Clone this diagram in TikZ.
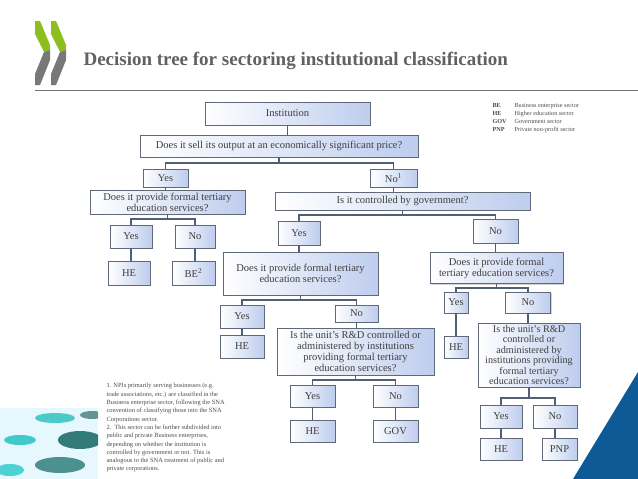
\documentclass[tikz,border=0pt]{standalone}
\usepackage{fontspec}
\setmainfont{Liberation Serif}
\usetikzlibrary{shadows}
\definecolor{bxr}{RGB}{190,205,238}
\definecolor{bxd}{RGB}{95,105,120}
\definecolor{lnc}{RGB}{80,95,115}
\definecolor{oecdg}{RGB}{140,190,30}
\definecolor{oecdgr}{RGB}{120,120,120}
\definecolor{tri}{RGB}{14,90,150}
\begin{document}
\begin{tikzpicture}[x=1pt,y=-1pt,
 bx/.style={draw=bxd,line width=0.8pt,left color=white,right color=bxr,
   drop shadow={shadow xshift=1.2pt,shadow yshift=-1.2pt,opacity=0.35},
   inner sep=1pt,align=center,font=\fontsize{10.5}{11}\selectfont,text=black!75},
 ln/.style={draw=lnc,line width=1.3pt}]
\useasboundingbox (0,0) rectangle (638,479);
\fill[white] (0,0) rectangle (638,479);
% logo
\foreach \o in {0,16}{
 \fill[oecdg] (35+\o,21)--(40+\o,21)--(50+\o,45)--(50+\o,50)--(44+\o,52)--(35+\o,34)--cycle;
 \fill[oecdgr] (44+\o,52)--(50+\o,50)--(50+\o,60)--(40+\o,85)--(35+\o,85)--(35+\o,74)--cycle;}
\node[anchor=base west,font=\fontsize{19}{21}\selectfont\bfseries,text=black!62] (title) at (80,65) {Decision tree for sectoring institutional classification};
\draw[black!55,line width=0.6pt] (35,90) -- (638,90);
% triangle
\fill[tri] (573,479) -- (638,372) -- (638,479) -- cycle;
% photo
\begin{scope}
\clip (0,408) rectangle (98,479);
\fill[white!90!cyan] (0,408) rectangle (98,479);
\fill[teal!60!cyan!70] (55,418) ellipse (20 and 5);
\fill[teal!70!black!80] (80,440) ellipse (22 and 9);
\fill[teal!55!cyan!75] (20,440) ellipse (16 and 5);
\fill[teal!75!black!70] (60,465) ellipse (25 and 8);
\fill[teal!50!cyan!70] (10,470) ellipse (14 and 6);
\fill[teal!60!black!60] (92,415) ellipse (12 and 4);
\end{scope}
% legend
\node[anchor=north west,align=left,font=\fontsize{6.2}{8}\selectfont,text=black!70] (leg) at (489,100)
 {\makebox[22pt][l]{\textbf{BE}}Business enterprise sector\\
  \makebox[22pt][l]{\textbf{HE}}Higher education sector\\
  \makebox[22pt][l]{\textbf{GOV}}Government sector\\
  \makebox[22pt][l]{\textbf{PNP}}Private non-profit sector};
% footnotes
\node[anchor=north west,align=left,font=\fontsize{6.4}{8.3}\selectfont,text=black!70] (fn) at (103,380)
 {1. NPIs primarily serving businesses (e.g.\\
 trade associations, etc.) are classified in the\\
 Business enterprise sector, following the SNA\\
 convention of classifying those into the SNA\\
 Corporations sector.\\
 2.\ \ This sector can be further subdivided into\\
 public and private Business enterprises,\\
 depending on whether the institution is\\
 controlled by government or not. This is\\
 analogous to the SNA treatment of public and\\
 private corporations.};
% boxes
\node[bx,minimum width=165,minimum height=23] (inst) at (287.5,113.5) {Institution};
\node[bx,minimum width=278,minimum height=22] (q1) at (279,146) {Does it sell its output at an economically significant price?};
\node[bx,minimum width=45,minimum height=18] (y1) at (165.5,178) {Yes};
\node[bx,minimum width=47,minimum height=18] (n1) at (393.5,178) {No\textsuperscript{1}};
\node[bx,minimum width=155,minimum height=24] (q2) at (167.5,202) {Does it provide formal tertiary\\education services?};
\node[bx,minimum width=255,minimum height=18] (q3) at (402.5,201) {Is it controlled by government?};
\node[bx,minimum width=42,minimum height=23] (ya) at (131,236.5) {Yes};
\node[bx,minimum width=40,minimum height=23] (na) at (195,236.5) {No};
\node[bx,minimum width=42,minimum height=24] (hea) at (129,273) {HE};
\node[bx,minimum width=43,minimum height=24] (be) at (193.5,273) {BE\textsuperscript{2}};
\node[bx,minimum width=42,minimum height=24] (yb) at (299,233) {Yes};
\node[bx,minimum width=45,minimum height=24] (nb) at (495.5,231) {No};
\node[bx,minimum width=155,minimum height=43] (q4) at (300.5,273.5) {Does it provide formal tertiary\\education services?};
\node[bx,minimum width=133,minimum height=31] (q5) at (496.5,268) {Does it provide formal\\tertiary education services?};
\node[bx,minimum width=44,minimum height=23] (yc) at (242,316.5) {Yes};
\node[bx,minimum width=43,minimum height=17] (nc) at (356.5,313.5) {No};
\node[bx,minimum width=44,minimum height=23] (hec) at (242,346.5) {HE};
\node[bx,minimum width=157,minimum height=47] (q6) at (355.5,351.5) {Is the unit's R\&D controlled or\\administered by institutions\\providing formal tertiary\\education services?};
\node[bx,minimum width=24,minimum height=21] (yd) at (456,302.5) {Yes};
\node[bx,minimum width=45,minimum height=21] (nd) at (528,302.5) {No};
\node[bx,minimum width=24,minimum height=22] (hed) at (456,347) {HE};
\node[bx,minimum width=102,minimum height=64,font=\fontsize{10.2}{10.4}\selectfont] (q7) at (529,355) {Is the unit's R\&D\\controlled or\\administered by\\institutions providing\\formal tertiary\\education services?};
\node[bx,minimum width=42,minimum height=23] (ye) at (501,416.5) {Yes};
\node[bx,minimum width=44,minimum height=23] (ne) at (555,416.5) {No};
\node[bx,minimum width=42,minimum height=22] (hee) at (501,449) {HE};
\node[bx,minimum width=35,minimum height=22] (pnp) at (559.5,449) {PNP};
\node[bx,minimum width=45,minimum height=22] (yf) at (312.5,396) {Yes};
\node[bx,minimum width=45,minimum height=22] (nf) at (395.5,396) {No};
\node[bx,minimum width=45,minimum height=22] (hef) at (312.5,431) {HE};
\node[bx,minimum width=45,minimum height=22] (gov) at (395.5,431) {GOV};
% connectors
\newcommand\brn[4]{\draw[ln] (#1.south) -- (#1.south |- 0,#2) -| (#3.north);
  \draw[ln] (#1.south |- 0,#2) -| (#4.north);}
\newcommand\dwn[2]{\draw[ln] (#1.south) -- (#1.south |- #2.north);}
\brn{q1}{163}{y1}{n1}
\brn{q2}{219}{ya}{na}
\brn{q3}{215}{yb}{nb}
\brn{q4}{300}{yc}{nc}
\brn{q5}{288}{yd}{nd}
\brn{q6}{380}{yf}{nf}
\brn{q7}{398}{ye}{ne}
\dwn{inst}{q1}
\dwn{y1}{q2}
\dwn{n1}{q3}
\dwn{ya}{hea}
\dwn{na}{be}
\dwn{yb}{q4}
\dwn{nb}{q5}
\dwn{yc}{hec}
\dwn{nc}{q6}
\dwn{yd}{hed}
\dwn{nd}{q7}
\dwn{ye}{hee}
\dwn{ne}{pnp}
\dwn{yf}{hef}
\dwn{nf}{gov}
\end{tikzpicture}
\end{document}
